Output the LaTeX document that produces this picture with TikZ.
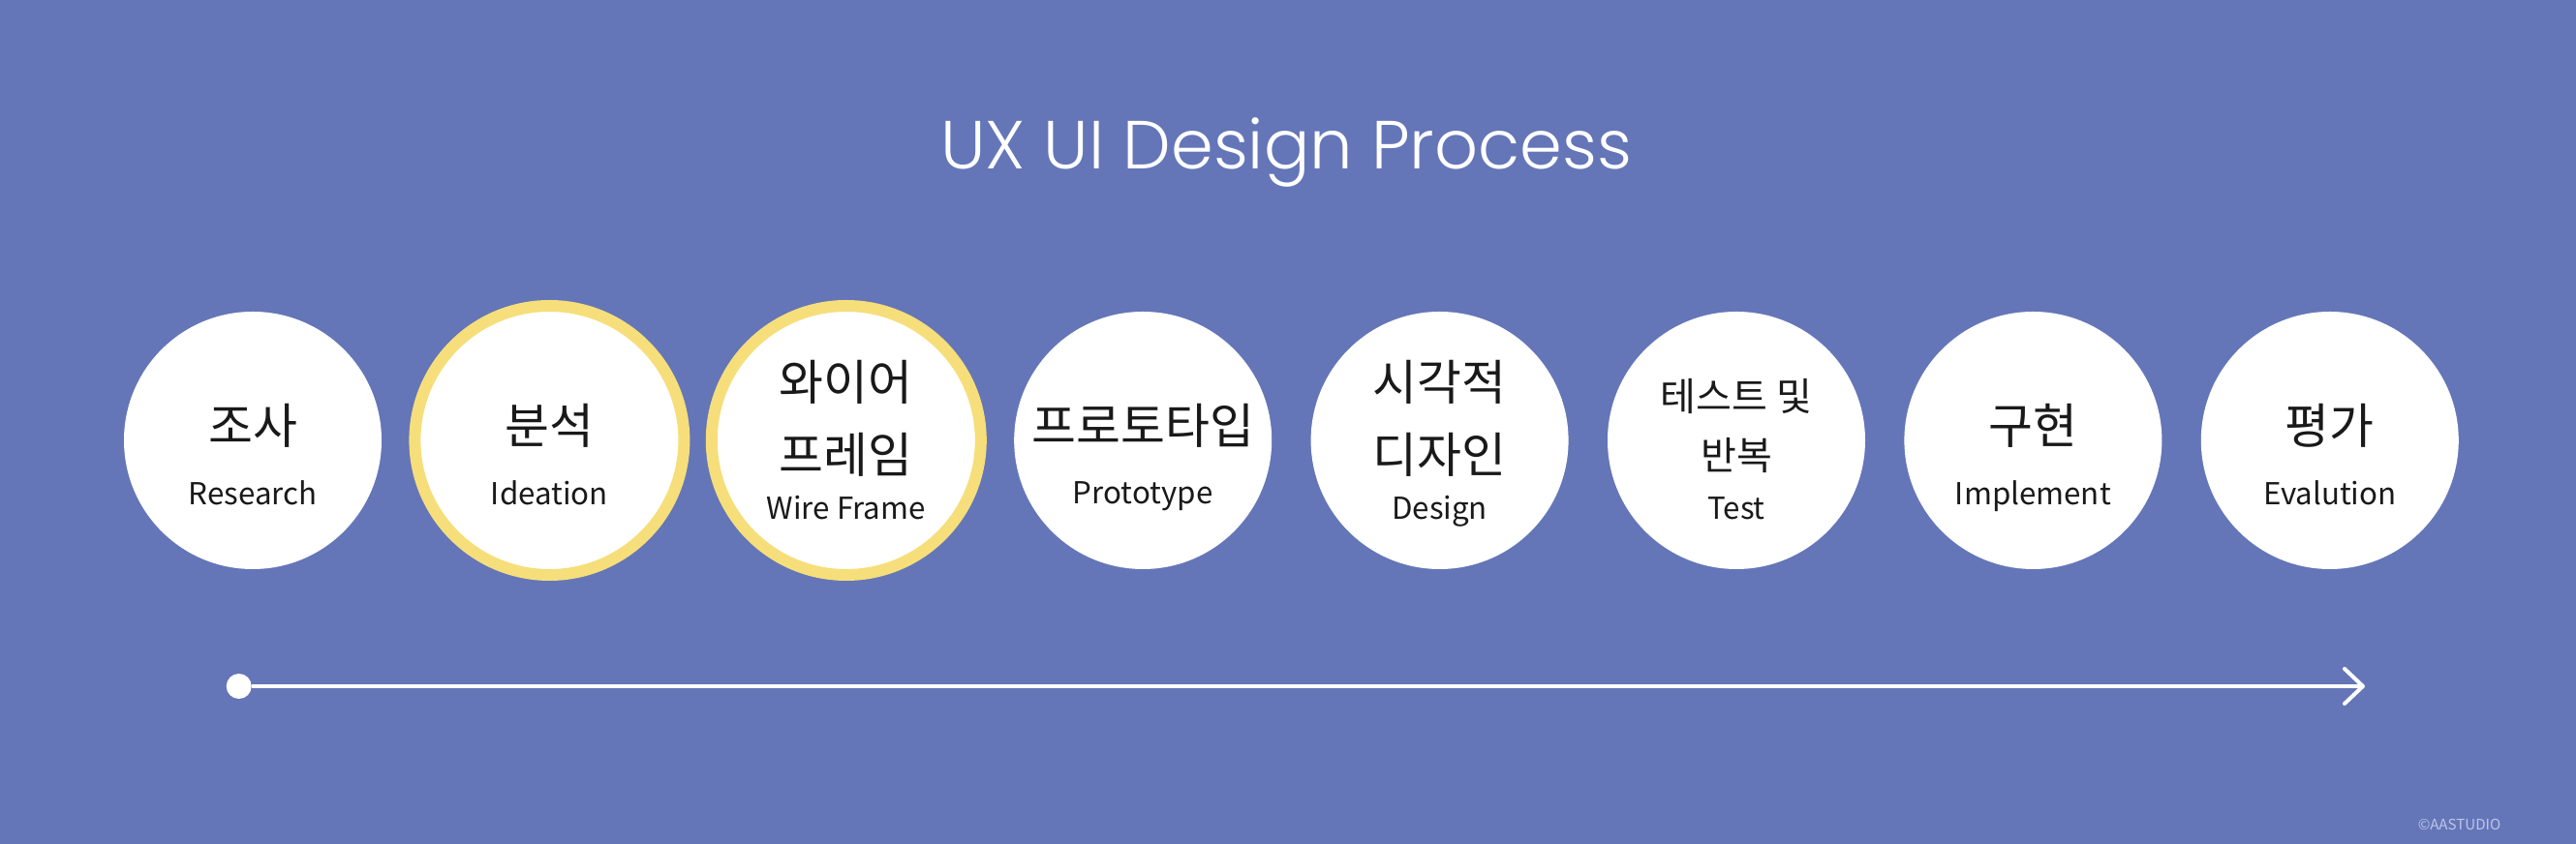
\documentclass[tikz,border=0pt]{standalone}
\usepackage{fontspec}
\setmainfont{Noto Sans CJK KR}
\newfontfamily\titlefont{Poppins}[UprightFont=* Light]
\usetikzlibrary{arrows.meta, positioning}
\definecolor{processblue}{RGB}{100, 118, 184}
\definecolor{ringyellow}{RGB}{246, 222, 122}
\definecolor{labelgray}{RGB}{25, 25, 25}
\definecolor{creditgray}{RGB}{190, 198, 232}

\begin{document}
\begin{tikzpicture}[
  stage/.style={circle, fill=white, inner sep=0pt, minimum size=2.66cm},
  picked/.style={circle, fill=white, draw=ringyellow, line width=0.12cm, inner sep=0pt, minimum size=2.78cm},
  kr/.style={anchor=base, inner sep=0pt, text=labelgray, font=\fontsize{14.2}{14.2}\selectfont},
  krsmall/.style={kr, font=\fontsize{11.4}{11.4}\selectfont},
  en/.style={anchor=base, inner sep=0pt, text=labelgray, font=\fontsize{8.9}{8.9}\selectfont},
  startdot/.style={circle, fill=white, inner sep=0pt, minimum size=0.26cm},
  timeline/.style={white, line width=0.04cm, -{Straight Barb[length=0.19cm, width=0.36cm, round]}}
]
  \fill[processblue] (0, 0) rectangle (26.6, 8.72);

  \node[text=white, anchor=base, font=\titlefont\fontsize{20}{20}\selectfont] (title) at (13.28, 6.97) {UX UI Design Process};

  % stages
  \node[stage]  (research)  at (2.61, 4.17)   {};
  \node[picked] (ideation)  at (5.674, 4.17)  {};
  \node[picked] (wireframe) at (8.738, 4.17)  {};
  \node[stage]  (prototype) at (11.802, 4.17) {};
  \node[stage]  (design)    at (14.866, 4.17) {};
  \node[stage]  (test)      at (17.93, 4.17)  {};
  \node[stage]  (implement) at (20.994, 4.17) {};
  \node[stage]  (evaluate)  at (24.058, 4.17) {};

  \node[kr, yshift=-0.04cm] (research-kr) at (research) {조사};
  \node[en, yshift=-0.67cm] (research-en) at (research) {Research};
  \node[kr, yshift=-0.04cm] (ideation-kr) at (ideation) {분석};
  \node[en, yshift=-0.67cm] (ideation-en) at (ideation) {Ideation};
  \node[kr, yshift=0.41cm]  (wireframe-kr1) at (wireframe) {와이어};
  \node[kr, yshift=-0.34cm] (wireframe-kr2) at (wireframe) {프레임};
  \node[en, yshift=-0.82cm] (wireframe-en)  at (wireframe) {Wire Frame};
  \node[kr, yshift=-0.04cm] (prototype-kr) at (prototype) {프로토타입};
  \node[en, yshift=-0.66cm] (prototype-en) at (prototype) {Prototype};
  \node[kr, yshift=0.41cm]  (design-kr1) at (design) {시각적};
  \node[kr, yshift=-0.34cm] (design-kr2) at (design) {디자인};
  \node[en, yshift=-0.82cm] (design-en)  at (design) {Design};
  \node[krsmall, yshift=0.30cm]  (test-kr1) at (test) {테스트 및};
  \node[krsmall, yshift=-0.31cm] (test-kr2) at (test) {반복};
  \node[en, yshift=-0.82cm]      (test-en)  at (test) {Test};
  \node[kr, yshift=-0.04cm] (implement-kr) at (implement) {구현};
  \node[en, yshift=-0.67cm] (implement-en) at (implement) {Implement};
  \node[kr, yshift=-0.04cm] (evaluate-kr) at (evaluate) {평가};
  \node[en, yshift=-0.67cm] (evaluate-en) at (evaluate) {Evalution};

  % timeline
  \node[startdot] (start) at (2.467, 1.63) {};
  \coordinate (finish) at (24.42, 1.63);
  \draw[timeline] (start) -- (finish);

  \node[anchor=base east, inner sep=0pt, text=creditgray, font=\fontsize{4.3}{4.3}\selectfont] (credit) at (25.83, 0.14) {©AASTUDIO};
\end{tikzpicture}
\end{document}
